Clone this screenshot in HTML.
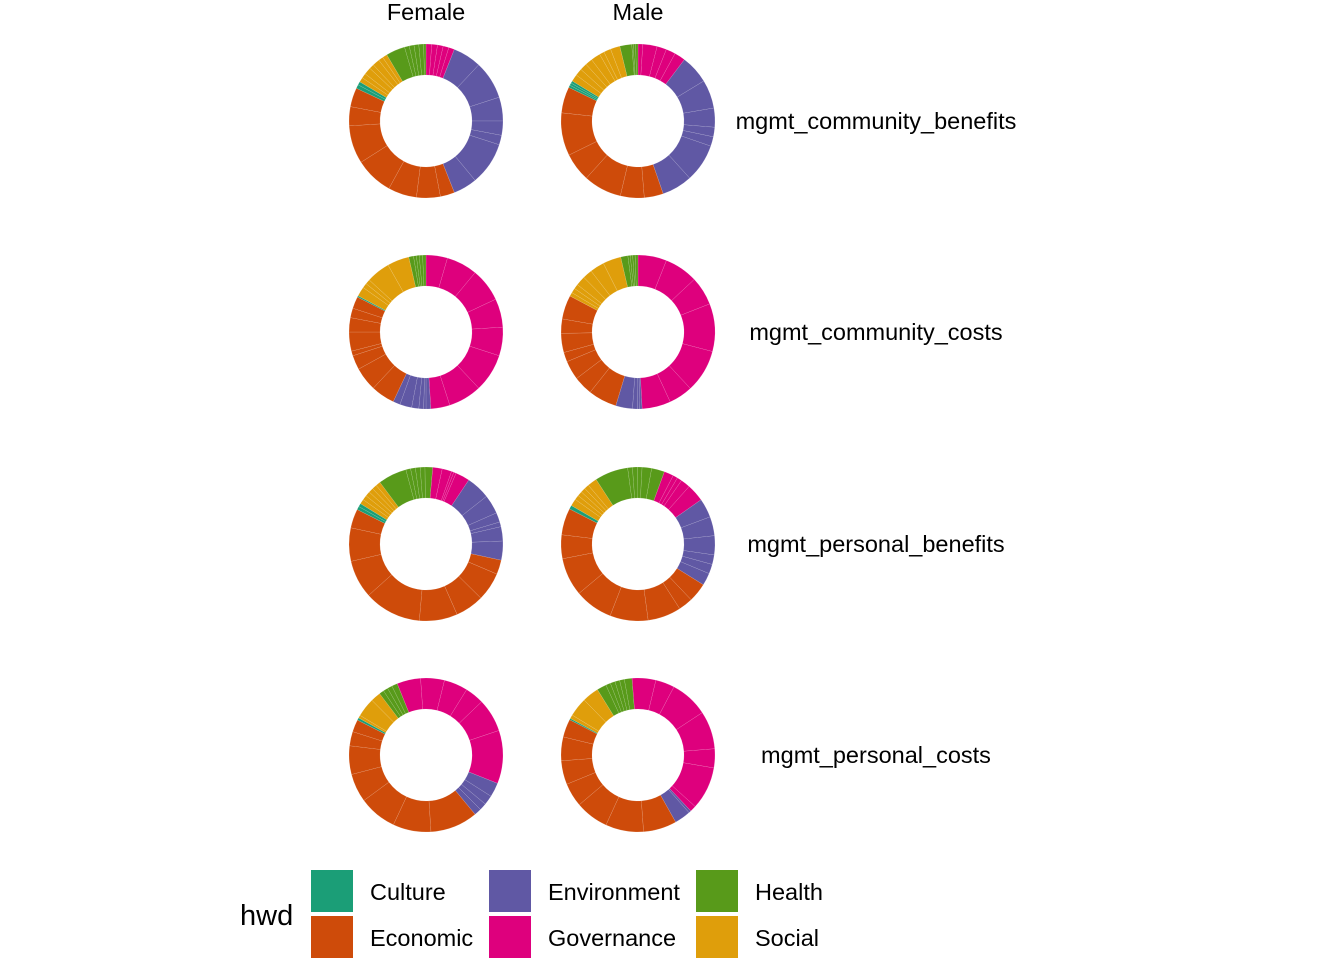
<!DOCTYPE html>
<html><head><meta charset="utf-8"><style>
body{margin:0;background:#fff;}
svg{display:block;font-family:"Liberation Sans",Arial,sans-serif;}
</style></head><body>
<svg id="chart" width="1344" height="960">
<g id="strips">
<text x="426" y="20" font-size="23.5" text-anchor="middle">Female</text>
<text x="638" y="20" font-size="23.5" text-anchor="middle">Male</text>
<text x="876" y="129" font-size="23.5" text-anchor="middle">mgmt_community_benefits</text>
<text x="876" y="340" font-size="23.5" text-anchor="middle">mgmt_community_costs</text>
<text x="876" y="552" font-size="23.5" text-anchor="middle">mgmt_personal_benefits</text>
<text x="876" y="763" font-size="23.5" text-anchor="middle">mgmt_personal_costs</text>
</g>
<g id="donuts"></g>
<g id="legend">
<text x="240" y="925" font-size="29">hwd</text>
<rect x="311" y="870" width="42" height="42" fill="#1B9E77"/>
<text x="370" y="900" font-size="23.5">Culture</text>
<rect x="311" y="916" width="42" height="42" fill="#CE4B0A"/>
<text x="370" y="946" font-size="23.5">Economic</text>
<rect x="489" y="870" width="42" height="42" fill="#6058A4"/>
<text x="548" y="900" font-size="23.5">Environment</text>
<rect x="489" y="916" width="42" height="42" fill="#DE007D"/>
<text x="548" y="946" font-size="23.5">Governance</text>
<rect x="696" y="870" width="42" height="42" fill="#589A1A"/>
<text x="755" y="900" font-size="23.5">Health</text>
<rect x="696" y="916" width="42" height="42" fill="#DF9E0B"/>
<text x="755" y="946" font-size="23.5">Social</text>
</g>
</svg>
<script>
// clockwise order of categories in each donut
const categories = ["Governance","Environment","Economic","Culture","Social","Health"];
const colors = ["#DE007D","#6058A4","#CE4B0A","#1B9E77","#DF9E0B","#589A1A"];
const panels = ["female-community-benefits","male-community-benefits","female-community-costs","male-community-costs","female-personal-benefits","male-personal-benefits","female-personal-costs","male-personal-costs"];
const rotations = [0,0,0,0,5,20,-22,-4.5];
const govVals = [[1.2,1.2,1.2,1.2,1.2],[1,3,2,2,2.3],[4.5,6.5,7,6,6,8,7,4],[6,7,6,10,9,5,6],[2,2,0.5,0.5,3],[2,1,1,2,3.7],[5,5,5,4,7,11.2],[5,4,8,8,4,9,1.3]];
const envVals = [[6,8,5,3,2,9,5],[6,6,4,2,2,8,6.4],[1,0.5,1,1.5,2.5,1.5],[0.5,0.5,1,3.5],[5,4,2,1,3,4],[4,4,4,2,2,2.6],[3,2,1.5,1.5],[0.5,3.4]];
const econVals = [[3,5,6,8,8,4,4],[4,5,8,6,9,5.5],[5,5,3,1,4,3,2,2.5],[6,4,4,2,4,3,5],[3,6,6,8,12,8,7,4],[4,3,7,8,8,8,5,5.6],[10,8,8,6,6,3,2.6],[7,8,7,5,5,5,3.8]];
const cultVals = [[0.8,0.7],[0.5,0.5,0.5],[0.3],[],[0.7,0.7],[0.8],[0.5],[0.3]];
const socVals = [[1,1,1.5,1,1.5,1,1],[1.5,1.5,1.5,1.5,2,1,1.5,2],[2,1,1,5,4.6],[0.8,1,1,2,2,3,3.8],[1,1,1,1,1,1],[1.5,1,1,1,1,2],[0.6,4,2.1],[0.8,4,3.5]];
const healthVals = [[4,1,1,1,1,0.5],[2.5,0.3,0.5,0.5],[1,0.6,0.6,0.7,0.7],[1.5,0.5,0.5,0.5,0.6],[6,1,1,1,1,1.6],[7,1,1,1,2,2.7],[1,1,1,1.2],[2,1,1,1,1,1.6]];

const colX = [426,638], rowY = [121,332,544,755];
const R0 = 46, R1 = 77;
const NS = "http://www.w3.org/2000/svg";
const host = document.getElementById("donuts");
function pt(r, deg, cx, cy){ const a = deg*Math.PI/180; return [cx + r*Math.sin(a), cy - r*Math.cos(a)]; }
function arc(cx, cy, a0, a1){
  const large = (a1-a0) > 180 ? 1 : 0;
  const p0 = pt(R1,a0,cx,cy), p1 = pt(R1,a1,cx,cy), p2 = pt(R0,a1,cx,cy), p3 = pt(R0,a0,cx,cy);
  return `M${p0[0]},${p0[1]}A${R1},${R1} 0 ${large} 1 ${p1[0]},${p1[1]}L${p2[0]},${p2[1]}A${R0},${R0} 0 ${large} 0 ${p3[0]},${p3[1]}Z`;
}
panels.forEach((name, i) => {
  const cx = colX[i%2], cy = rowY[Math.floor(i/2)];
  const g = document.createElementNS(NS,"g");
  
  
  host.appendChild(g);
  const groups = [govVals[i], envVals[i], econVals[i], cultVals[i], socVals[i], healthVals[i]];
  let total = 0; groups.forEach(a => a.forEach(v => total += v));
  let ang = rotations[i];
  groups.forEach((arr, ci) => {
    arr.forEach(v => {
      const span = v/total*360;
      const p = document.createElementNS(NS,"path");
      p.setAttribute("d", arc(cx, cy, ang, ang+span));
      p.setAttribute("fill", colors[ci]);
      p.setAttribute("stroke", "rgba(255,255,255,0.3)");
      p.setAttribute("stroke-width", "0.4");
      
      
      g.appendChild(p);
      ang += span;
    });
  });
});
</script>
</body></html>
